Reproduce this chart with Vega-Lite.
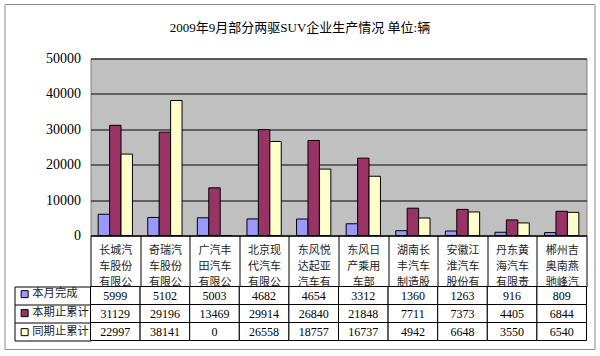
{
  "$schema": "https://vega.github.io/schema/vega-lite/v6.json",
  "padding": {"left": 4.5, "top": 4.5, "right": 4, "bottom": 4},
  "background": "white",
  "data": {
    "values": [
      {"cat": "长城汽车股份有限公", "series": "本月完成", "value": 5999},
      {"cat": "奇瑞汽车股份有限公", "series": "本月完成", "value": 5102},
      {"cat": "广汽丰田汽车有限公", "series": "本月完成", "value": 5003},
      {"cat": "北京现代汽车有限公", "series": "本月完成", "value": 4682},
      {"cat": "东风悦达起亚汽车有", "series": "本月完成", "value": 4654},
      {"cat": "东风日产乘用车部", "series": "本月完成", "value": 3312},
      {"cat": "湖南长丰汽车制造股", "series": "本月完成", "value": 1360},
      {"cat": "安徽江淮汽车股份有", "series": "本月完成", "value": 1263},
      {"cat": "丹东黄海汽车有限责", "series": "本月完成", "value": 916},
      {"cat": "郴州吉奥南燕驰峰汽", "series": "本月完成", "value": 809},
      {"cat": "长城汽车股份有限公", "series": "本期止累计", "value": 31129},
      {"cat": "奇瑞汽车股份有限公", "series": "本期止累计", "value": 29196},
      {"cat": "广汽丰田汽车有限公", "series": "本期止累计", "value": 13469},
      {"cat": "北京现代汽车有限公", "series": "本期止累计", "value": 29914},
      {"cat": "东风悦达起亚汽车有", "series": "本期止累计", "value": 26840},
      {"cat": "东风日产乘用车部", "series": "本期止累计", "value": 21848},
      {"cat": "湖南长丰汽车制造股", "series": "本期止累计", "value": 7711},
      {"cat": "安徽江淮汽车股份有", "series": "本期止累计", "value": 7373},
      {"cat": "丹东黄海汽车有限责", "series": "本期止累计", "value": 4405},
      {"cat": "郴州吉奥南燕驰峰汽", "series": "本期止累计", "value": 6844},
      {"cat": "长城汽车股份有限公", "series": "同期止累计", "value": 22997},
      {"cat": "奇瑞汽车股份有限公", "series": "同期止累计", "value": 38141},
      {"cat": "广汽丰田汽车有限公", "series": "同期止累计", "value": 0},
      {"cat": "北京现代汽车有限公", "series": "同期止累计", "value": 26558},
      {"cat": "东风悦达起亚汽车有", "series": "同期止累计", "value": 18757},
      {"cat": "东风日产乘用车部", "series": "同期止累计", "value": 16737},
      {"cat": "湖南长丰汽车制造股", "series": "同期止累计", "value": 4942},
      {"cat": "安徽江淮汽车股份有", "series": "同期止累计", "value": 6648},
      {"cat": "丹东黄海汽车有限责", "series": "同期止累计", "value": 3550},
      {"cat": "郴州吉奥南燕驰峰汽", "series": "同期止累计", "value": 6540}
    ]
  },
  "spacing": 51,
  "bounds": "flush",
  "resolve": {
    "scale": {"x": "independent", "y": "independent"},
    "legend": {"color": "independent", "stroke": "independent"}
  },
  "vconcat": [
    {
      "width": 496,
      "height": 177,
      "title": {
        "text": "2009年9月部分两驱SUV企业生产情况 单位:辆",
        "font": "'Liberation Serif', 'Noto Sans CJK SC'",
        "fontSize": 13,
        "fontWeight": "normal",
        "color": "black",
        "anchor": "middle",
        "frame": "group",
        "dx": -38.5,
        "offset": 17
      },
      "view": {"fill": "#C0C0C0", "stroke": "#808080"},
      "mark": {"type": "bar", "stroke": "black", "strokeWidth": 1},
      "encoding": {
        "x": {
          "field": "cat",
          "type": "nominal",
          "sort": null,
          "scale": {"paddingInner": 0, "paddingOuter": 0},
          "axis": {
            "title": null,
            "labelAngle": 0,
            "labelExpr": "[substring(datum.label,0,3), substring(datum.label,3,6), substring(datum.label,6,9)]",
            "labelFont": "'Noto Sans CJK SC'",
            "labelFontSize": 11,
            "labelLineHeight": 16,
            "labelColor": "#222222",
            "labelBaseline": "top",
            "labelPadding": -42.5,
            "labelOverlap": false,
            "labelBound": false,
            "labelLimit": 0,
            "tickBand": "extent",
            "tickSize": 51,
            "tickColor": "black",
            "tickWidth": 1,
            "domain": true,
            "domainColor": "black",
            "domainWidth": 1,
            "grid": false
          }
        },
        "xOffset": {
          "field": "series",
          "type": "nominal",
          "sort": ["本月完成", "本期止累计", "同期止累计"],
          "scale": {"paddingInner": 0, "paddingOuter": 0.67}
        },
        "y": {
          "field": "value",
          "type": "quantitative",
          "scale": {"domain": [0, 50000], "nice": false},
          "axis": {
            "title": null,
            "values": [0, 10000, 20000, 30000, 40000, 50000],
            "format": "d",
            "grid": true,
            "gridColor": "black",
            "gridWidth": 1,
            "ticks": false,
            "domain": false,
            "labelPadding": 10,
            "labelFont": "'Liberation Serif'",
            "labelFontSize": 14,
            "labelColor": "black"
          }
        },
        "color": {
          "field": "series",
          "type": "nominal",
          "sort": ["本月完成", "本期止累计", "同期止累计"],
          "scale": {
            "domain": ["本月完成", "本期止累计", "同期止累计"],
            "range": ["#9999FF", "#993366", "#FFFFCC"]
          },
          "legend": {
            "orient": "none",
            "legendX": -71.5,
            "legendY": 230,
            "title": null,
            "padding": 0,
            "symbolType": "square",
            "symbolSize": 49,
            "symbolStrokeColor": "black",
            "symbolStrokeWidth": 1,
            "symbolOpacity": 1,
            "labelFont": "'Noto Sans CJK SC'",
            "labelFontSize": 11.3,
            "labelColor": "#222222",
            "labelOffset": 2,
            "rowPadding": 6
          }
        }
      }
    },
    {
      "width": 496,
      "height": 54,
      "view": {"stroke": null},
      "encoding": {
        "x": {
          "field": "cat",
          "type": "nominal",
          "sort": null,
          "scale": {"paddingInner": 0, "paddingOuter": 0},
          "axis": null
        },
        "y": {
          "field": "series",
          "type": "nominal",
          "sort": ["本月完成", "本期止累计", "同期止累计"],
          "scale": {"paddingInner": 0, "paddingOuter": 0},
          "axis": {
            "title": null,
            "orient": "left",
            "offset": 76,
            "labels": false,
            "domain": true,
            "domainColor": "black",
            "ticks": true,
            "tickBand": "extent",
            "tickSize": -76,
            "tickColor": "black",
            "grid": false
          }
        }
      },
      "layer": [
        {"mark": {"type": "rect", "fill": "white", "stroke": "black", "strokeWidth": 1}},
        {
          "mark": {"type": "text", "font": "'Liberation Serif'", "fontSize": 12, "color": "black"},
          "encoding": {"text": {"field": "value", "type": "quantitative", "format": "d"}}
        },
        {
          "mark": {"type": "point", "opacity": 0, "strokeOpacity": 0, "fillOpacity": 0},
          "encoding": {
            "stroke": {
              "field": "value",
              "type": "quantitative",
              "scale": {"range": ["rgba(255,255,255,0)", "rgba(255,255,255,0)"]},
              "legend": {
                "orient": "none",
                "legendX": -85.5,
                "legendY": -282,
                "title": null,
                "padding": 0,
                "direction": "vertical",
                "gradientLength": 345,
                "gradientThickness": 590,
                "gradientStrokeColor": "#8a8a8a",
                "gradientStrokeWidth": 1,
                "labelOpacity": 0,
                "labelFontSize": 1,
                "labelOffset": 0,
                "zindex": 0
              }
            }
          }
        }
      ]
    }
  ]
}
